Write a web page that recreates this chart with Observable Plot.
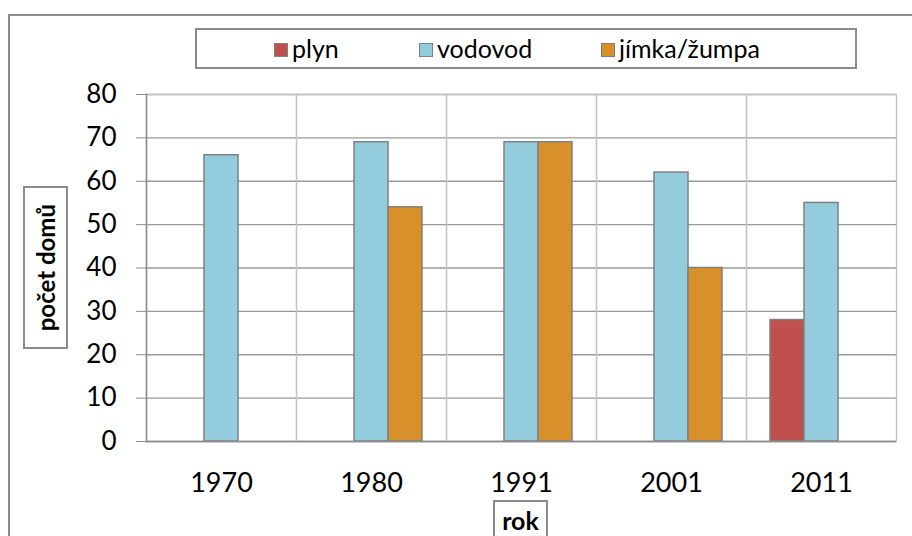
<!DOCTYPE html>
<html>
<head>
<meta charset="utf-8">
<script src="https://cdn.jsdelivr.net/npm/d3@7"></script>
<script src="https://cdn.jsdelivr.net/npm/@observablehq/plot@0.6"></script>
<style>
  html, body { margin: 0; padding: 0; background: #fff; }
  #wrap { position: relative; width: 912px; height: 536px; overflow: hidden; font-family: Lato, "Open Sans", sans-serif; }
  #wrap svg { position: absolute; left: 0; top: 0; }
  .outer { position: absolute; left: 8px; top: 14px; width: 920px; height: 560px; border: 2px solid #8c8c8c; box-sizing: border-box; }
  .legend { position: absolute; left: 195px; top: 28px; width: 662px; height: 41px; border: 2px solid #8c8c8c; box-sizing: border-box; background: #fff; }
  .li { position: absolute; top: 2px; font-size: 25px; line-height: 32px; white-space: nowrap; color: #000; }
  .sw { display: inline-block; width: 14px; height: 14px; border: 1.5px solid #808080; box-sizing: border-box; margin-right: 4px; vertical-align: 1px; }
  .ylab { position: absolute; left: 23px; top: 186px; width: 45px; height: 163px; border: 2px solid #8c8c8c; box-sizing: border-box; display: flex; align-items: center; justify-content: center; background: #fff; }
  .ylab span { writing-mode: vertical-rl; transform: rotate(180deg); font-weight: bold; font-size: 24px; white-space: nowrap; }
  .xlab { position: absolute; left: 493px; top: 500px; width: 55px; height: 50px; border: 2px solid #8c8c8c; box-sizing: border-box; text-align: center; font-weight: bold; font-size: 25px; line-height: 36px; background: #fff; }
</style>
</head>
<body>
<div id="wrap"></div>
<script>
// ---- data ----
const years = ["1970", "1980", "1991", "2001", "2011"];
const seriesNames = ["plyn", "vodovod", "jímka/žumpa"];
const plyn = [null, null, null, null, 28];
const vodovod = [66, 69, 69, 62, 55];
const jimka = [null, 54, 69, 40, null];
const yTicks = [0, 10, 20, 30, 40, 50, 60, 70, 80];
const colors = ["#c0504d", "#93cddd", "#d8902a"];

const seriesValues = [plyn, vodovod, jimka];
const rows = [];
years.forEach((yr, i) => {
  seriesNames.forEach((s, j) => {
    rows.push({ year: yr, series: s, value: seriesValues[j][i] });
  });
});

const chart = Plot.plot({
  width: 912,
  height: 536,
  marginTop: 94,
  marginLeft: 145,
  marginRight: 16,
  marginBottom: 95,
  style: { fontFamily: "Lato, 'Open Sans', sans-serif", fontSize: "26px", color: "#000", background: "transparent" },
  fx: { domain: years, padding: 0, label: null },
  x: { domain: seriesNames, paddingInner: 0, paddingOuter: 0.7, axis: null },
  y: { domain: [0, 80], label: null },
  color: { domain: seriesNames, range: colors },
  marks: [
    Plot.gridY(yTicks, { stroke: "#9a9a9a", strokeOpacity: 1, strokeWidth: 1.3 }),
    Plot.frame({ stroke: "#c4c4c4", strokeWidth: 1.3 }),
    Plot.barY(rows.filter(d => d.value != null), {
      fx: "year", x: "series", y: "value", fill: "series",
      stroke: "#808080", strokeWidth: 1.5
    }),
    Plot.ruleY([0], { stroke: "#8c8c8c", strokeWidth: 1.5 }),
    Plot.frame({ anchor: "left", stroke: "#8c8c8c", strokeWidth: 1.5, ariaLabel: "yaxisline" }),
    Plot.axisY(yTicks, { tickSize: 10, tickPadding: 20, label: null, fontSize: 26, stroke: "#8c8c8c" }),
    Plot.axisFx({ anchor: "bottom", tickSize: 0, tickPadding: 31, label: null, fontSize: 27 })
  ]
});

// keep the darker axis line only on the first facet
const yl = chart.querySelector('g[aria-label="yaxisline"]');
if (yl) {
  const kids = Array.from(yl.children);
  if (kids.length > 1) kids.slice(1).forEach(k => k.remove());
}

const wrap = document.getElementById("wrap");
wrap.appendChild(chart);

const outer = document.createElement("div");
outer.className = "outer";
wrap.appendChild(outer);

// legend
const legend = document.createElement("div");
legend.className = "legend";
const legendX = [77, 222, 404];
seriesNames.forEach((s, i) => {
  const it = document.createElement("div");
  it.className = "li";
  it.style.left = legendX[i] + "px";
  const sw = document.createElement("span");
  sw.className = "sw";
  sw.style.background = colors[i];
  it.appendChild(sw);
  it.appendChild(document.createTextNode(s));
  legend.appendChild(it);
});
wrap.appendChild(legend);

const ylab = document.createElement("div");
ylab.className = "ylab";
ylab.innerHTML = "<span>počet domů</span>";
wrap.appendChild(ylab);

const xlab = document.createElement("div");
xlab.className = "xlab";
xlab.textContent = "rok";
wrap.appendChild(xlab);
</script>
</body>
</html>
